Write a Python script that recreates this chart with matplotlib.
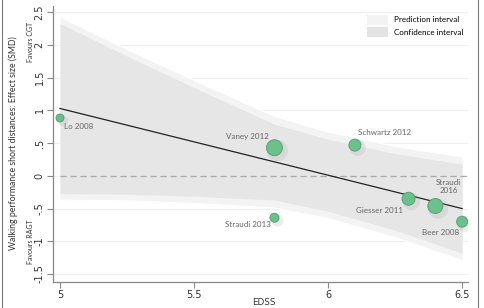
import matplotlib
matplotlib.use("Agg")
import matplotlib.pyplot as plt
from matplotlib.patches import Patch
from matplotlib.lines import Line2D
import matplotlib.transforms as mtransforms

# -----------------------------
# Data
# -----------------------------
band_x = [5.0, 5.25, 5.5, 5.8, 6.0, 6.25, 6.5]
pred_upper = [2.43, 1.93, 1.46, 0.91, 0.67, 0.45, 0.29]
pred_lower = [-0.37, -0.38, -0.42, -0.49, -0.65, -0.94, -1.29]
conf_upper = [2.33, 1.83, 1.35, 0.79, 0.56, 0.34, 0.18]
conf_lower = [-0.27, -0.28, -0.31, -0.37, -0.54, -0.83, -1.18]

fit_x = [5.0, 6.5]
fit_y = [1.03, -0.50]

studies = ["Lo 2008", "Vaney 2012", "Schwartz 2012", "Straudi 2013",
           "Giesser 2011", "Straudi\n2016", "Beer 2008"]
edss = [5.0, 5.8, 6.1, 5.8, 6.3, 6.4, 6.5]
smd = [0.885, 0.43, 0.47, -0.64, -0.35, -0.46, -0.70]
sizes = [33, 132, 75, 42, 88, 117, 63]

label_x = [5.015, 5.70, 6.21, 5.70, 6.19, 6.45, 6.42]
label_y = [0.75, 0.60, 0.66, -0.75, -0.53, -0.16, -0.87]
label_ha = ["left", "center", "center", "center", "center", "center", "center"]

yticks = [-1.5, -1, -0.5, 0, 0.5, 1, 1.5, 2, 2.5]
ytick_labels = ["-1.5", "-1", "-.5", "0", ".5", "1", "1.5", "2", "2.5"]
xticks = [5, 5.5, 6, 6.5]
xtick_labels = ["5", "5.5", "6", "6.5"]

# -----------------------------
# Figure
# -----------------------------
fig = plt.figure(figsize=(4.84, 3.08), dpi=100)
ax = fig.add_axes([0.1095, 0.0844, 0.8575, 0.897])

pred_col = "#f3f3f3"
conf_col = "#e6e6e6"

# grid lines
for yt in yticks:
    ax.axhline(yt, color="#efefef", lw=0.8, zorder=0)

# bands
ax.fill_between(band_x, pred_lower, pred_upper, color=pred_col, lw=0, zorder=1)
ax.plot(band_x, pred_upper, color="white", lw=0.8, zorder=1.5)
ax.plot(band_x, pred_lower, color="white", lw=0.8, zorder=1.5)
ax.fill_between(band_x, conf_lower, conf_upper, color=conf_col, lw=0, zorder=2)

# reference line and fit
ax.hlines(0, 5.0, 6.522, colors="#a8a8a8", linestyles=(0, (5, 3)), lw=0.9, zorder=3)
ax.plot(fit_x, fit_y, color="#222222", lw=0.9, zorder=4)

# shadows of the points
shadow = mtransforms.offset_copy(ax.transData, fig=fig, x=2.0, y=-2.0, units="points")
ax.scatter(edss, smd, s=[v * 1.8 for v in sizes], color="#999999", alpha=0.18,
           lw=0, transform=shadow, zorder=4.5)

# points
ax.scatter(edss, smd, s=sizes, color="#6cc08b", edgecolors="#4f9e6c",
           linewidths=0.6, zorder=5, clip_on=False)

for name, lx, ly, ha in zip(studies, label_x, label_y, label_ha):
    ax.text(lx, ly, name, ha=ha, va="center", fontsize=5.8, color="#666666",
            family="Lato", linespacing=1.1, zorder=6)

# -----------------------------
# Axes styling
# -----------------------------
ax.set_xlim(4.974, 6.522)
ax.set_ylim(-1.622, 2.6)
ax.set_yticks(yticks)
ax.set_yticklabels(ytick_labels, rotation=90, va="center", fontsize=7, color="#333333")
ax.set_xticks(xticks)
ax.set_xticklabels(xtick_labels, fontsize=7, color="#333333")
ax.tick_params(axis="both", length=4, width=0.8, color="#888888", pad=2)

for side in ["top", "right"]:
    ax.spines[side].set_visible(False)
for side in ["left", "bottom"]:
    ax.spines[side].set_color("#888888")
    ax.spines[side].set_linewidth(0.9)

# x label placed so it stays inside the figure
fig.text(0.545, 0.004, "EDSS", ha="center", va="bottom", fontsize=6.3,
         color="#333333")

fig.text(0.027, 0.536, "Walking performance short distances: Effect size (SMD)",
         rotation=90, ha="center", va="center", fontsize=6.3, color="#333333",
         family="Lato")
fig.text(0.062, 0.863, "Favours CGT", rotation=90, ha="center", va="center",
         fontsize=5, color="#333333", family="Lato")
fig.text(0.062, 0.215, "Favours RAGT", rotation=90, ha="center", va="center",
         fontsize=5, color="#333333", family="Lato")

# legend
handles = [Patch(facecolor=pred_col, edgecolor="none", label="Prediction interval"),
           Patch(facecolor="#e3e3e3", edgecolor="none", label="Confidence interval")]
ax.legend(handles=handles, loc="upper right", bbox_to_anchor=(1.0, 0.985),
          frameon=False, handlelength=2.6, handleheight=1.5,
          labelspacing=0.35, handletextpad=0.7, borderaxespad=0.2,
          prop={"family": "Lato", "size": 5.8})

# figure border lines left and right
fig.add_artist(Line2D([0.004, 0.004], [0, 1], transform=fig.transFigure,
                      color="#777777", lw=0.8))
fig.add_artist(Line2D([0.988, 0.988], [0, 1], transform=fig.transFigure,
                      color="#777777", lw=0.8))

fig.savefig("out.png", dpi=100)
